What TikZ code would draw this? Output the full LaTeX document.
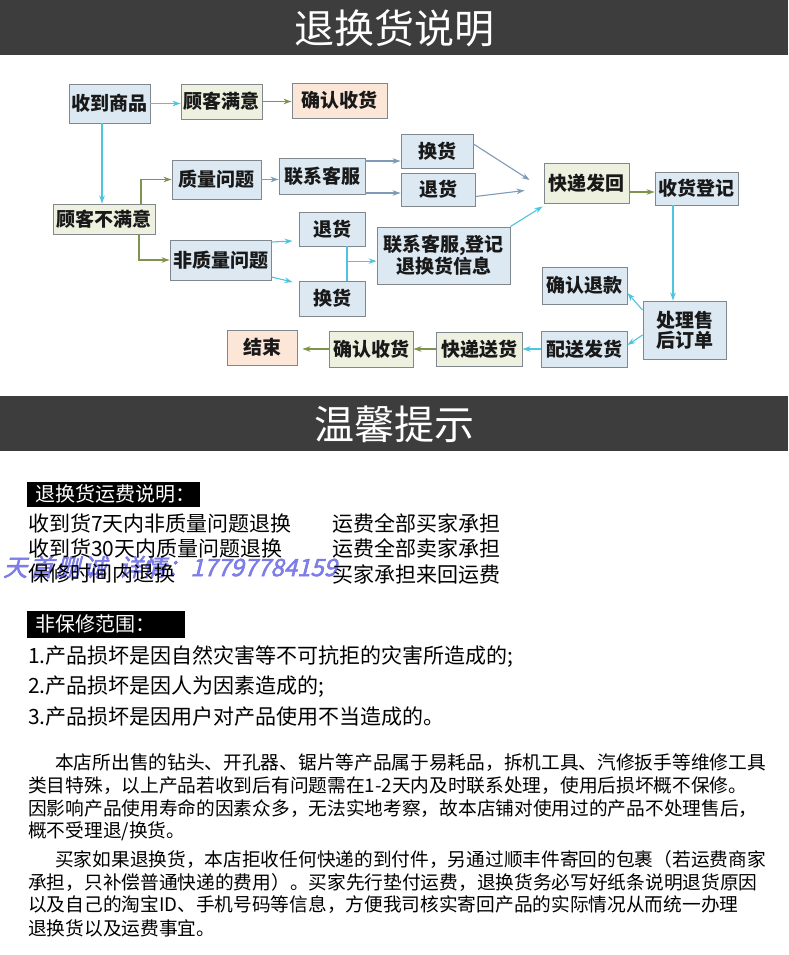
\documentclass[tikz,border=0pt]{standalone}
\usepackage{fontspec}
\setmainfont{Noto Sans CJK SC}
\newfontfamily\wmfont[FakeSlant=0.25,FakeBold=2]{Noto Sans CJK SC}
\usetikzlibrary{arrows.meta,calc}
\definecolor{hdr}{HTML}{3D3D3D}
\definecolor{bfill}{HTML}{DCE9F2}
\definecolor{cfill}{HTML}{EEF1DF}
\definecolor{pfill}{HTML}{FCE6D8}
\definecolor{bord}{HTML}{80878D}
\definecolor{cy}{HTML}{4EC4DE}
\definecolor{ol}{HTML}{7E944C}
\definecolor{gb}{HTML}{7E9BB8}
\definecolor{wm}{HTML}{6B6BE6}
\tikzset{
 box/.style={draw=bord, line width=0.9pt, inner sep=0pt, font=\fontsize{19}{20}\selectfont\bfseries, text=black!90, align=center},
 bbox/.style={box, fill=bfill},
 cbox/.style={box, fill=cfill},
 pbox/.style={box, fill=pfill},
 arr/.style={line width=1.1pt, -{Stealth[length=8pt,width=5.5pt]}},
 acy/.style={arr, draw=cy},
 aol/.style={arr, draw=ol},
 agb/.style={arr, draw=gb},
 lcy/.style={line width=1.1pt, draw=cy},
 title/.style={text=white, inner sep=0pt, font=\fontsize{40}{40}\selectfont},
 lab/.style={fill=black, text=white, anchor=west, inner xsep=8pt, inner ysep=0pt, align=left, font=\fontsize{20}{20}\selectfont},
 txt/.style={anchor=west, inner sep=0pt, font=\fontsize{21}{21}\selectfont, text=black},
 ptxt/.style={anchor=west, inner sep=0pt, font=\fontsize{18.7}{18.7}\selectfont, text=black}
}
\begin{document}
\begin{tikzpicture}[x=1pt,y=-1pt]
\useasboundingbox (0,0) rectangle (788,955);
\fill[white] (0,0) rectangle (788,955);
% headers
\fill[hdr] (0,0) rectangle (788,55);
\node[title] (t1) at (394,28) {退换货说明};
\fill[hdr] (0,396) rectangle (788,451);
\node[title] (t2) at (394,424) {温馨提示};
% flowchart nodes
\node[bbox, minimum width=81pt, minimum height=39pt] (n1) at (109.5,103.5) {收到商品};
\node[cbox, minimum width=81pt, minimum height=35pt] (n2) at (221.5,101.5) {顾客满意};
\node[pbox, minimum width=95pt, minimum height=35pt] (n3) at (339.5,100.5) {确认收货};
\node[bbox, minimum width=89pt, minimum height=39pt] (n4) at (216.5,179.5) {质量问题};
\node[bbox, minimum width=86pt, minimum height=36pt] (n5) at (322,176) {联系客服};
\node[bbox, minimum width=72pt, minimum height=34pt] (n6) at (437,151) {换货};
\node[bbox, minimum width=74pt, minimum height=33pt] (n7) at (438,189.5) {退货};
\node[cbox, minimum width=85pt, minimum height=40pt] (n8) at (586.5,183) {快递发回};
\node[bbox, minimum width=83pt, minimum height=33pt] (n9) at (696.5,188.5) {收货登记};
\node[cbox, minimum width=102pt, minimum height=30pt] (n10) at (104,219) {顾客不满意};
\node[bbox, minimum width=101pt, minimum height=40pt] (n11) at (220.5,260) {非质量问题};
\node[bbox, minimum width=66pt, minimum height=34pt] (n12) at (332,229) {退货};
\node[bbox, minimum width=66pt, minimum height=35pt] (n13) at (332,298.5) {换货};
\node[bbox, minimum width=133pt, minimum height=57pt] (n14) at (443.5,255.5) {联系客服,登记\\退换货信息};
\node[bbox, minimum width=85pt, minimum height=37pt] (n15) at (584.5,285.5) {确认退款};
\node[bbox, minimum width=83pt, minimum height=58pt] (n16) at (684.5,330) {处理售\\后订单};
\node[bbox, minimum width=86pt, minimum height=36pt] (n17) at (584,349) {配送发货};
\node[cbox, minimum width=86pt, minimum height=34pt] (n18) at (479,349) {快递送货};
\node[cbox, minimum width=84pt, minimum height=36pt] (n19) at (371,349) {确认收货};
\node[pbox, minimum width=70pt, minimum height=35pt] (n20) at (262,347.5) {结束};
% connectors
\draw[acy] (n1.east) -- (n1.east -| n2.west);
\draw[aol] (n2.east) -- (n2.east -| n3.west);
\draw[acy] ([xshift=-7.5pt]n1.south) -- ([xshift=-2pt]n10.north);
\draw[aol] ([xshift=37pt]n10.north) |- (n4.west);
\draw[aol] ([xshift=35pt]n10.south) |- (n11.west);
\draw[agb] (n4.east) -- (n4.east -| n5.west);
\draw[agb] ([yshift=15pt]n5.east) -- ([yshift=-10pt]n6.west);
\draw[agb] ([yshift=-17pt]n5.east) -- ([yshift=-3.5pt]n7.west);
\draw[agb] ([yshift=7pt]n6.east) -- ([xshift=-14pt,yshift=3pt]n8.west);
\draw[agb] ([yshift=-7pt]n7.east) -- ([xshift=-19pt,yshift=-7.5pt]n8.west);
\draw[acy] (n14.north east) -- ([xshift=-1pt,yshift=-3pt]n8.south west);
\draw[aol] ([yshift=-9pt]n8.east) -- ([yshift=-3.5pt]n9.west);
\draw[acy] ([xshift=-23.5pt]n9.south) -- ([xshift=-11.5pt]n16.north);
\draw[acy] ([yshift=20pt]n16.west) -- ([yshift=-7.5pt]n15.east);
\draw[acy] ([yshift=-5pt]n16.west) -- ([yshift=4pt]n17.east);
\draw[acy] (n17.west) -- (n18.east);
\draw[aol] (n18.west) -- (n19.east);
\draw[aol, shorten >=5pt] (n19.west) -- (n19.west -| n20.east);
\draw[acy] ([yshift=18pt]n11.east) -- ([xshift=-6pt,yshift=-12pt]n12.west);
\draw[acy] ([yshift=-17pt]n11.east) -- ([xshift=-6pt,yshift=16.5pt]n13.west);
\draw[lcy] ([xshift=15pt]n12.south) -- ([xshift=15pt]n13.north);
\coordinate (j) at ($([xshift=15pt]n12.south)!0.43!([xshift=15pt]n13.north)$);
\draw[acy] (j) -- (j -| n14.west);
% tips section
\node[lab, minimum height=25pt, text width=157pt] (L1) at (27,494) {退换货运费说明：};
\node[anchor=west, inner sep=0pt, font=\wmfont\fontsize{24}{24}\selectfont, text=wm, opacity=0.85] (wmk) at (3,567) {{\addfontfeature{LetterSpace=10}天首删诚}\hspace{12pt}详情：17797784159};
\node[txt] (r1a) at (28,523) {收到货7天内非质量问题退换};
\node[txt] (r1b) at (332,523) {运费全部买家承担};
\node[txt] (r2a) at (28,548) {收到货30天内质量问题退换};
\node[txt] (r2b) at (332,548) {运费全部卖家承担};
\node[txt] (r3a) at (28,574) {保修时间内退换};
\node[txt] (r3b) at (332,574) {买家承担来回运费};
\node[lab, minimum height=27pt, text width=142pt] (L2) at (27,624) {非保修范围：};
\node[txt] (s1) at (28,657) {1.产品损坏是因自然灾害等不可抗拒的灾害所造成的;};
\node[txt] (s2) at (28,687) {2.产品损坏是因人为因素造成的;};
\node[txt] (s3) at (28,717) {3.产品损坏是因用户对产品使用不当造成的。};
\node[ptxt] (p1) at (55,763) {本店所出售的钻头、开孔器、锯片等产品属于易耗品，拆机工具、汽修扳手等维修工具};
\node[ptxt] (p2) at (28,786) {类目特殊，以上产品若收到后有问题需在1-2天内及时联系处理，使用后损坏概不保修。};
\node[ptxt] (p3) at (28,809) {因影响产品使用寿命的因素众多，无法实地考察，故本店铺对使用过的产品不处理售后，};
\node[ptxt] (p4) at (28,831) {概不受理退/换货。};
\node[ptxt] (q1) at (55,859) {买家如果退换货，本店拒收任何快递的到付件，另通过顺丰件寄回的包裹（若运费商家};
\node[ptxt] (q2) at (28,882) {承担，只补偿普通快递的费用）。买家先行垫付运费，退换货务必写好纸条说明退货原因};
\node[ptxt] (q3) at (28,905) {以及自己的淘宝ID、手机号码等信息，方便我司核实寄回产品的实际情况从而统一办理};
\node[ptxt] (q4) at (28,928) {退换货以及运费事宜。};
\end{tikzpicture}
\end{document}
